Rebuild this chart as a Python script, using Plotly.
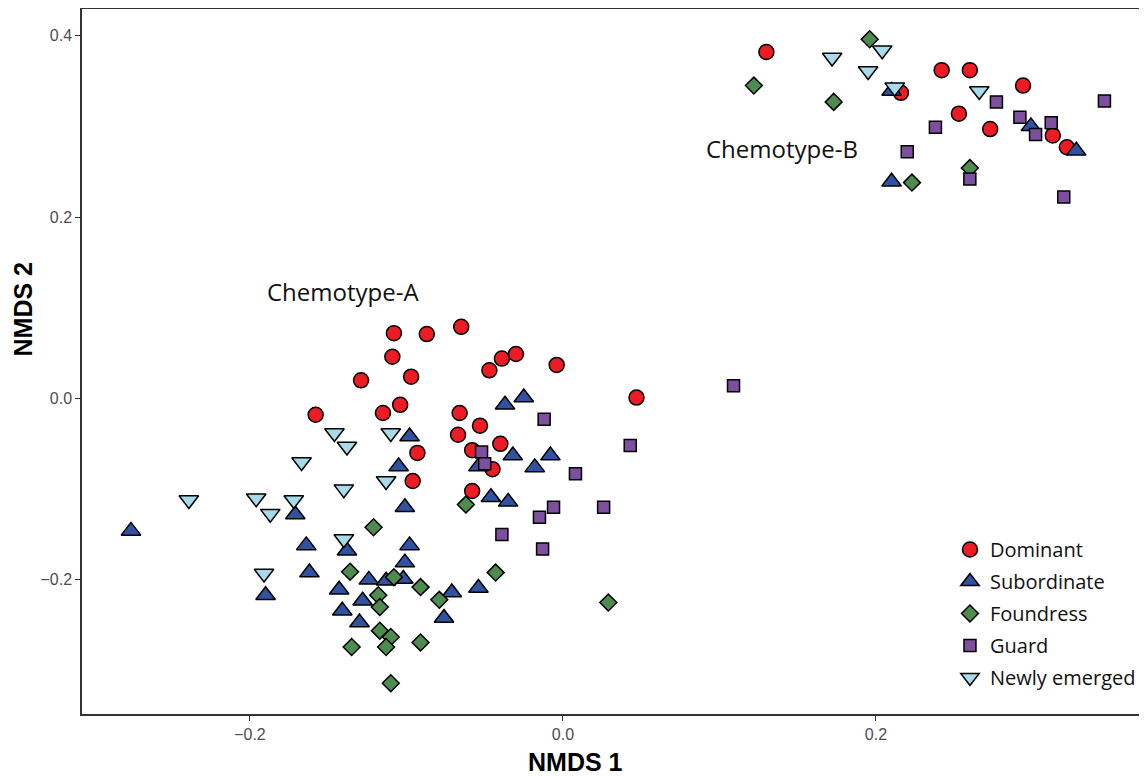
import plotly.graph_objects as go

# ---- data (NMDS scores) ----
dominant_x = [0.130, 0.242, 0.260, 0.216, 0.294, 0.253, 0.273, 0.313, 0.322,
              -0.108, -0.087, -0.065, -0.109, -0.097, -0.047, -0.039, -0.030, -0.004, 0.047,
              -0.104, -0.115, -0.066, -0.053, -0.067, -0.040, -0.058, -0.093, -0.045, -0.096,
              -0.058, -0.129, -0.158]
dominant_y = [0.382, 0.362, 0.362, 0.337, 0.345, 0.314, 0.297, 0.290, 0.277,
              0.072, 0.071, 0.079, 0.046, 0.024, 0.031, 0.044, 0.049, 0.037, 0.001,
              -0.007, -0.016, -0.016, -0.030, -0.040, -0.050, -0.057, -0.060, -0.078, -0.091,
              -0.102, 0.020, -0.018]

subordinate_x = [0.210, 0.299, 0.328, 0.210,
                 -0.037, -0.025, -0.098, -0.032, -0.008, -0.105, -0.018, -0.054, -0.046, -0.035,
                 -0.101, -0.276, -0.171, -0.164, -0.138, -0.098, -0.162, -0.101, -0.124, -0.113,
                 -0.102, -0.143, -0.190, -0.071, -0.054, -0.128, -0.141, -0.130, -0.076]
subordinate_y = [0.339, 0.300, 0.273, 0.239,
                 -0.007, 0.001, -0.042, -0.063, -0.063, -0.075, -0.076, -0.075, -0.109, -0.114,
                 -0.120, -0.146, -0.128, -0.162, -0.168, -0.162, -0.192, -0.181, -0.200, -0.201,
                 -0.199, -0.211, -0.217, -0.214, -0.209, -0.223, -0.234, -0.247, -0.242]

foundress_x = [0.196, 0.122, 0.173, 0.260, 0.223,
               -0.062, -0.121, -0.136, -0.108, -0.091, -0.043, -0.118, -0.117, -0.079,
               -0.117, -0.110, -0.135, -0.113, -0.091, -0.110, 0.029]
foundress_y = [0.396, 0.345, 0.327, 0.254, 0.238,
               -0.117, -0.142, -0.191, -0.197, -0.208, -0.192, -0.217, -0.230, -0.222,
               -0.256, -0.263, -0.274, -0.274, -0.269, -0.314, -0.225]

guard_x = [0.277, 0.346, 0.292, 0.312, 0.238, 0.302, 0.220, 0.260, 0.320,
           0.109, -0.012, 0.043, -0.052, -0.050, 0.008, -0.006, 0.026, -0.015, -0.039, -0.013]
guard_y = [0.327, 0.328, 0.310, 0.304, 0.299, 0.291, 0.272, 0.242, 0.222,
           0.014, -0.023, -0.052, -0.059, -0.072, -0.083, -0.120, -0.120, -0.131, -0.150, -0.166]

newly_x = [0.172, 0.204, 0.195, 0.212, 0.266,
           -0.146, -0.138, -0.110, -0.167, -0.113, -0.140, -0.239, -0.196, -0.172, -0.187,
           -0.140, -0.191]
newly_y = [0.376, 0.384, 0.361, 0.343, 0.339,
           -0.038, -0.053, -0.038, -0.070, -0.091, -0.100, -0.112, -0.110, -0.112, -0.127,
           -0.155, -0.193]

groups = ["Dominant", "Subordinate", "Foundress", "Guard", "Newly emerged"]
xticks = [-0.2, 0.0, 0.2]
xticklabels = ["\u22120.2", "0.0", "0.2"]
yticks = [-0.2, 0.0, 0.2, 0.4]
yticklabels = ["\u22120.2", "0.0", "0.2", "0.4"]

# ---- styles ----
styles = {
    "Dominant": dict(symbol="circle", color="#ED1C24", size=15),
    "Subordinate": dict(symbol="triangle-up", color="#3151A1", size=17),
    "Foundress": dict(symbol="diamond", color="#4E8B4F", size=13),
    "Guard": dict(symbol="square", color="#7D509F", size=12),
    "Newly emerged": dict(symbol="triangle-down", color="#A8DAEA", size=17),
}
data = {
    "Dominant": (dominant_x, dominant_y),
    "Subordinate": (subordinate_x, subordinate_y),
    "Foundress": (foundress_x, foundress_y),
    "Guard": (guard_x, guard_y),
    "Newly emerged": (newly_x, newly_y),
}

fig = go.Figure()
for g in groups:
    xs, ys = data[g]
    st = styles[g]
    fig.add_trace(go.Scatter(
        x=xs, y=ys, mode="markers", name=g, legendgroup=g,
        marker=dict(symbol=st["symbol"], color=st["color"], size=st["size"],
                    line=dict(color="black", width=1.5)),
    ))

fig.add_annotation(x=-0.1406, y=0.1174, text="Chemotype-A", showarrow=False,
                   font=dict(family="Open Sans", size=24, color="#111111"))
fig.add_annotation(x=0.140, y=0.276, text="Chemotype-B", showarrow=False,
                   font=dict(family="Open Sans", size=24, color="#111111"))

# axis titles
fig.add_annotation(xref="paper", yref="paper", x=0.4638, y=-0.0681,
                   text="<b>NMDS 1</b>", showarrow=False, yanchor="middle", xanchor="center",
                   font=dict(family="Liberation Sans, Arial", size=25, color="black"))
fig.add_annotation(xref="paper", yref="paper", x=-0.0554, y=0.5738,
                   text="<b>NMDS 2</b>", showarrow=False, textangle=-90,
                   xanchor="center", yanchor="middle",
                   font=dict(family="Liberation Sans, Arial", size=25, color="black"))

axis_common = dict(showgrid=False, zeroline=False, showline=True, linecolor="#333333",
                   linewidth=1.5, ticks="outside", ticklen=5, tickwidth=1.2, tickcolor="#333333",
                   tickfont=dict(family="Liberation Sans, Arial", size=16, color="#4D4D4D"))

fig.update_layout(
    width=1139, height=768,
    margin=dict(l=74, r=0, t=1, b=62),
    paper_bgcolor="white", plot_bgcolor="white",
    xaxis=dict(range=[-0.3073, 0.3732], tickvals=xticks, ticktext=xticklabels,
               mirror=True, **axis_common),
    yaxis=dict(range=[-0.3479, 0.4294], tickvals=yticks, ticktext=yticklabels,
               **axis_common),
    legend=dict(x=0.815, y=0.261, xanchor="left", yanchor="top",
                bgcolor="rgba(0,0,0,0)", traceorder="grouped", tracegroupgap=3,
                font=dict(family="Open Sans", size=20, color="#111111")),
    showlegend=True,
)

fig.write_html("out.html")
